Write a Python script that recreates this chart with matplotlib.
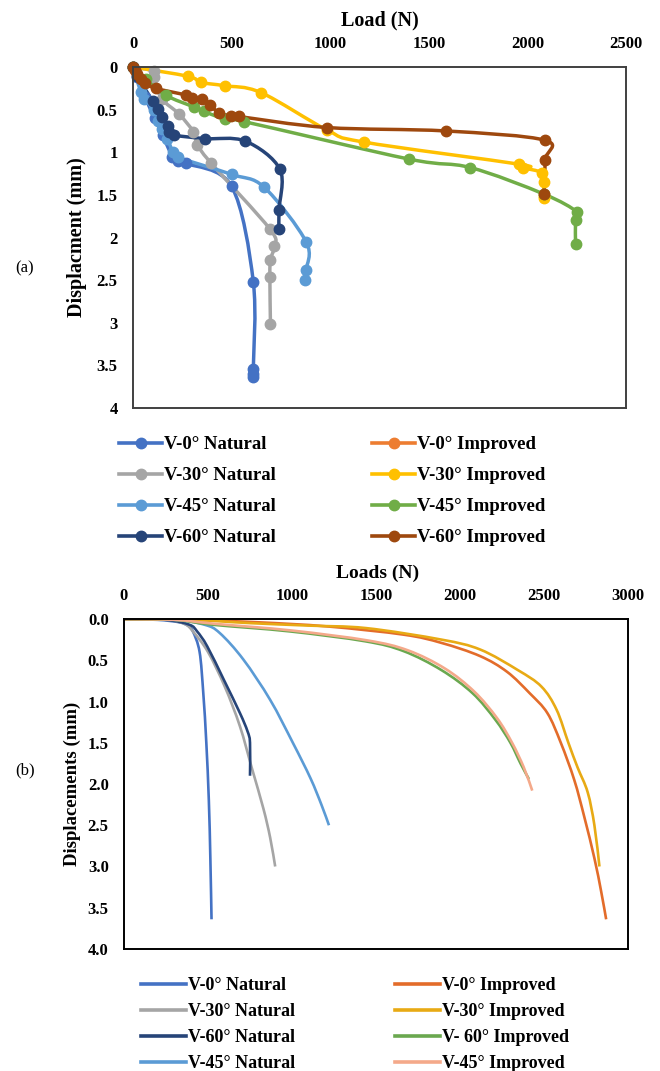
import numpy as np
import matplotlib
matplotlib.use('Agg')
import matplotlib.pyplot as plt
from matplotlib.path import Path
from matplotlib.patches import PathPatch
from matplotlib.lines import Line2D

plt.rcParams['font.family'] = ['Liberation Serif', 'DejaVu Serif']
plt.rcParams['font.weight'] = 'bold'

W, H = 660, 1071

# ---- (a) datos experimentales: carga (N) vs desplazamiento (mm) ----
a_names = ['V-0° Natural', 'V-0° Improved', 'V-30° Natural', 'V-30° Improved',
           'V-45° Natural', 'V-45° Improved', 'V-60° Natural', 'V-60° Improved']
a_colors = ['#4472C4', '#ED7D31', '#A5A5A5', '#FFC000',
            '#5B9BD5', '#70AD47', '#264478', '#9E480E']

a_v0n_load = [0, 20, 60, 110, 150, 200, 230, 270, 500, 610, 610, 608, 606]
a_v0n_disp = [0, 0.12, 0.35, 0.6, 0.8, 1.05, 1.1, 1.13, 1.4, 2.52, 3.54, 3.6, 3.64]
a_v0i_load = [0, 10]
a_v0i_disp = [0, 0.03]
a_v30n_load = [0, 107, 107, 145, 233, 306, 326, 397, 694, 717, 697, 694, 697]
a_v30n_disp = [0, 0.05, 0.12, 0.37, 0.55, 0.76, 0.91, 1.13, 1.90, 2.10, 2.26, 2.46, 3.01]
a_v30i_load = [0, 281, 343, 465, 649, 985, 1169, 1957, 1977, 2074, 2083, 2083, 2083]
a_v30i_disp = [0, 0.11, 0.18, 0.22, 0.30, 0.74, 0.88, 1.14, 1.18, 1.24, 1.35, 1.51, 1.54]
a_v45n_load = [0, 39, 58, 107, 126, 145, 174, 203, 230, 500, 665, 878, 878, 872]
a_v45n_disp = [0, 0.29, 0.37, 0.51, 0.63, 0.73, 0.84, 1.0, 1.06, 1.26, 1.41, 2.05, 2.38, 2.5]
a_v45i_load = [0, 68, 165, 310, 358, 465, 562, 1399, 1711, 2083, 2252, 2244, 2244]
a_v45i_disp = [0, 0.14, 0.33, 0.47, 0.52, 0.61, 0.64, 1.08, 1.18, 1.49, 1.70, 1.79, 2.08]
a_v60n_load = [0, 20, 100, 125, 145, 175, 185, 210, 365, 570, 745, 740, 740]
a_v60n_disp = [0, 0.1, 0.4, 0.49, 0.59, 0.69, 0.76, 0.80, 0.84, 0.87, 1.2, 1.68, 1.9]
a_v60i_load = [0, 10, 20, 40, 60, 115, 270, 300, 350, 390, 435, 495, 535, 985, 1585, 2090, 2090, 2085]
a_v60i_disp = [0, 0.04, 0.08, 0.14, 0.19, 0.25, 0.33, 0.36, 0.38, 0.44, 0.54, 0.57, 0.58, 0.71, 0.75, 0.86, 1.09, 1.49]

# ---- (b) curvas numéricas ----
b_names = ['V-0° Natural', 'V-30° Natural', 'V-60° Natural', 'V-45° Natural',
           'V-0° Improved', 'V-30° Improved', 'V- 60° Improved', 'V-45° Improved']
b_colors = ['#4472C4', '#A5A5A5', '#264478', '#5B9BD5',
            '#E36C2A', '#E8AA14', '#6AA84F', '#F4A98A']

b_v0n_load = [0, 200, 330, 380, 410, 450, 472, 490, 505, 514, 521]
b_v0n_disp = [0, 0.01, 0.04, 0.08, 0.15, 0.4, 0.9, 1.5, 2.2, 2.9, 3.64]
b_v30n_load = [0, 250, 360, 410, 500, 600, 690, 760, 830, 870, 900]
b_v30n_disp = [0, 0.01, 0.06, 0.15, 0.4, 0.82, 1.3, 1.8, 2.3, 2.65, 3.0]
b_v60n_load = [0, 250, 390, 435, 495, 595, 690, 735, 750, 750]
b_v60n_disp = [0, 0.01, 0.07, 0.15, 0.33, 0.74, 1.14, 1.36, 1.5, 1.9]
b_v45n_load = [0, 300, 480, 570, 710, 870, 1005, 1110, 1175, 1220]
b_v45n_disp = [0, 0.01, 0.07, 0.17, 0.49, 0.98, 1.5, 1.93, 2.25, 2.5]
b_v0i_load = [0, 400, 800, 1210, 1665, 1890, 2120, 2280, 2415, 2520, 2600, 2680, 2740, 2800, 2840, 2870]
b_v0i_disp = [0, 0.01, 0.04, 0.09, 0.19, 0.29, 0.45, 0.64, 0.9, 1.14, 1.5, 1.95, 2.4, 2.9, 3.3, 3.64]
b_v30i_load = [0, 400, 750, 1100, 1440, 1890, 2120, 2345, 2485, 2575, 2645, 2700, 2760, 2800, 2830]
b_v30i_disp = [0, 0.01, 0.05, 0.08, 0.11, 0.25, 0.37, 0.62, 0.82, 1.1, 1.5, 1.8, 2.1, 2.5, 3.0]
b_v60i_load = [0, 300, 530, 985, 1435, 1665, 1890, 2075, 2210, 2300, 2360, 2410]
b_v60i_disp = [0, 0.01, 0.07, 0.15, 0.27, 0.39, 0.62, 0.9, 1.22, 1.5, 1.75, 1.94]
b_v45i_load = [0, 300, 550, 1000, 1450, 1690, 1910, 2085, 2220, 2310, 2380, 2430]
b_v45i_disp = [0, 0.01, 0.06, 0.14, 0.26, 0.38, 0.6, 0.88, 1.2, 1.5, 1.8, 2.08]

a_series = [(a_v0n_load, a_v0n_disp), (a_v0i_load, a_v0i_disp),
            (a_v30n_load, a_v30n_disp), (a_v30i_load, a_v30i_disp),
            (a_v45n_load, a_v45n_disp), (a_v45i_load, a_v45i_disp),
            (a_v60n_load, a_v60n_disp), (a_v60i_load, a_v60i_disp)]
b_series = [(b_v0n_load, b_v0n_disp), (b_v30n_load, b_v30n_disp),
            (b_v60n_load, b_v60n_disp), (b_v45n_load, b_v45n_disp),
            (b_v0i_load, b_v0i_disp), (b_v30i_load, b_v30i_disp),
            (b_v60i_load, b_v60i_disp), (b_v45i_load, b_v45i_disp)]


# Curva suavizada tipo Excel (Catmull-Rom convertida a Bezier cúbica)
def smooth_path(x, y):
    pts = np.column_stack([x, y]).astype(float)
    verts = [pts[0]]
    codes = [Path.MOVETO]
    for i in range(len(pts) - 1):
        p0 = pts[i - 1] if i > 0 else pts[i]
        p1, p2 = pts[i], pts[i + 1]
        p3 = pts[i + 2] if i + 2 < len(pts) else pts[i + 1]
        verts += [p1 + (p2 - p0) / 6, p2 - (p3 - p1) / 6, p2]
        codes += [Path.CURVE4] * 3
    return Path(verts, codes)


def fx(px):
    return px / W


def fy(py):
    return 1 - py / H


def style_axes(ax, xmax, xstep, yfmt, edge):
    ax.set_xlim(0, xmax)
    ax.set_ylim(4, 0)
    ax.xaxis.tick_top()
    ax.set_xticks(np.arange(0, xmax + 1, xstep))
    ax.set_yticks(np.arange(0, 4.01, 0.5))
    ax.set_yticklabels([yfmt(v) for v in np.arange(0, 4.01, 0.5)])
    ax.tick_params(length=0, labelsize=12, pad=11)
    for lab in ax.get_xticklabels() + ax.get_yticklabels():
        lab.set_fontweight('bold')
    for s in ax.spines.values():
        s.set_color(edge)
        s.set_linewidth(1.4)


fig = plt.figure(figsize=(W / 100, H / 100), dpi=100)

# ---------- (a) ----------
ax1 = fig.add_axes([fx(133), fy(408), fx(626 - 133), (408 - 67) / H])
style_axes(ax1, 2500, 500, lambda v: f'{v:g}', '#404040')
a_handles = []
for (xs, ys), c, n in zip(a_series, a_colors, a_names):
    ax1.add_patch(PathPatch(smooth_path(xs, ys), fill=False, edgecolor=c, lw=2.5,
                            capstyle='round', joinstyle='round'))
    ax1.plot(xs, ys, 'o', color=c, ms=7.5, clip_on=False)
    a_handles.append(Line2D([], [], color=c, lw=2.6, marker='o', ms=7.5))

fig.text(fx(380), fy(20), 'Load (N)', ha='center', va='center', fontsize=14.5, fontweight='bold')
fig.text(fx(77), fy(237), 'Displacment (mm)', ha='center', va='center', rotation=90,
         fontsize=14.5, fontweight='bold')
fig.text(fx(25), fy(268), '(a)', ha='center', va='center', fontsize=12, fontweight='normal')

leg_kw = dict(frameon=False, loc='upper left', borderpad=0, borderaxespad=0,
              handlelength=2.3, handletextpad=0.1, prop={'weight': 'bold', 'size': 13.5})
nat = [0, 2, 4, 6]
imp = [1, 3, 5, 7]
fig.legend([a_handles[i] for i in nat], [a_names[i] for i in nat],
           bbox_to_anchor=(fx(119), fy(436)), labelspacing=0.74, **leg_kw)
fig.legend([a_handles[i] for i in imp], [a_names[i] for i in imp],
           bbox_to_anchor=(fx(372), fy(436)), labelspacing=0.74, **leg_kw)

# ---------- (b) ----------
ax2 = fig.add_axes([fx(124), fy(949), fx(628 - 124), (949 - 619) / H])
style_axes(ax2, 3000, 500, lambda v: f'{v:.1f}', '#000000')
b_handles = []
for (xs, ys), c, n in zip(b_series, b_colors, b_names):
    ax2.add_patch(PathPatch(smooth_path(xs, ys), fill=False, edgecolor=c, lw=1.9))
    b_handles.append(Line2D([], [], color=c, lw=2.6))

fig.text(fx(378), fy(573), 'Loads (N)', ha='center', va='center', fontsize=14, fontweight='bold')
fig.text(fx(72), fy(784), 'Displacements (mm)', ha='center', va='center', rotation=90,
         fontsize=13.5, fontweight='bold')
fig.text(fx(25), fy(770), '(b)', ha='center', va='center', fontsize=12, fontweight='normal')

leg_kw['handlelength'] = 2.5
leg_kw['prop'] = {'weight': 'bold', 'size': 13}
fig.legend(b_handles[:4], b_names[:4], bbox_to_anchor=(fx(141), fy(977)),
           labelspacing=0.5, **leg_kw)
fig.legend(b_handles[4:], b_names[4:], bbox_to_anchor=(fx(395), fy(977)),
           labelspacing=0.5, **leg_kw)

fig.savefig('out.png', dpi=100)
